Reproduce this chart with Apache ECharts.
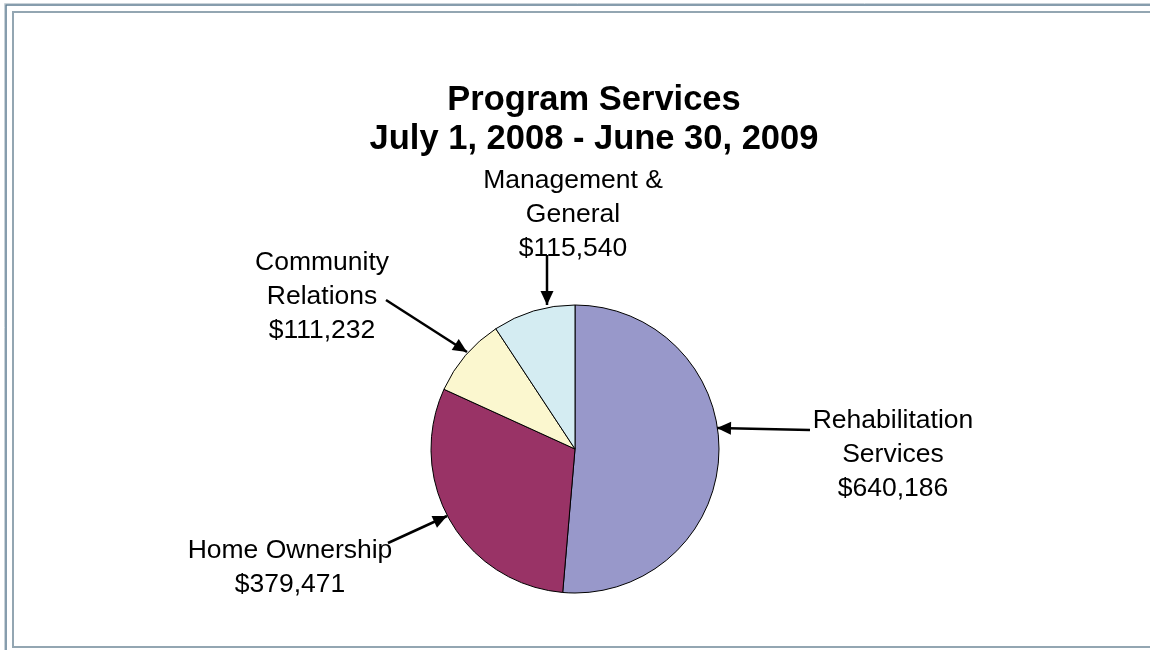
<!DOCTYPE html>
<html>
<head>
<meta charset="utf-8">
<script src="https://cdn.jsdelivr.net/npm/echarts@6/dist/echarts.min.js"></script>
<style>
html,body{margin:0;padding:0;background:#fff;}
#chart{width:1150px;height:650px;}
</style>
</head>
<body>
<div id="chart"></div>
<script>
// ---- data ----
var categories = ['Rehabilitation\nServices', 'Home Ownership', 'Community\nRelations', 'Management &\nGeneral'];
var values = [640186, 379471, 111232, 115540];
var titleLines = ['Program Services', 'July 1, 2008 - June 30, 2009'];

// ---- style / layout (annotation placement only) ----
var colors = ['#9898CA', '#993366', '#FBF7CF', '#D4ECF2'];
var labelCenters = [[893, 455], [290, 568], [322, 297], [573, 215]];
var arrowFrom = [[810, 430], [388, 543], [386, 300], [547, 255]];
var arrowTo = [[717, 428], [447, 516], [467, 352], [547, 305]];
var FONT = '"Liberation Sans", Arial, sans-serif';

function fmt(v) { return '$' + v.toLocaleString('en-US'); }

var chart = echarts.init(document.getElementById('chart'), null, {renderer: 'canvas'});

var option = {
  backgroundColor: '#ffffff',
  animation: false,
  title: {
    text: titleLines.join('\n'),
    left: 589,
    top: 76,
    textAlign: 'center',
    textStyle: {fontFamily: FONT, fontSize: 34.5, fontWeight: 'bold', color: '#000', lineHeight: 39}
  },
  graphic: [
    {type: 'rect', silent: true, z: 100, shape: {x: 4.5, y: 3.5, width: 1200, height: 700}, style: {fill: null, stroke: '#c9d2d8', lineWidth: 1}},
    {type: 'rect', silent: true, z: 100, shape: {x: 6, y: 5, width: 1200, height: 700}, style: {fill: null, stroke: '#5f7d92', lineWidth: 1.5}},
    {type: 'rect', silent: true, z: 100, shape: {x: 13, y: 12, width: 1200, height: 635}, style: {fill: null, stroke: '#93a6b2', lineWidth: 2}}
  ],
  series: [{
    type: 'pie',
    center: [575, 449],
    radius: 144,
    startAngle: 90,
    clockwise: true,
    avoidLabelOverlap: false,
    data: categories.map(function (c, i) {
      return {name: c, value: values[i], itemStyle: {color: colors[i]}};
    }),
    itemStyle: {borderColor: '#000', borderWidth: 1},
    label: {
      show: true,
      position: 'outside',
      formatter: function (p) { return p.name + '\n' + fmt(p.value); },
      fontFamily: FONT,
      fontSize: 26.5,
      lineHeight: 34,
      color: '#000',
      align: 'center'
    },
    labelLine: {show: true, length: 0, length2: 0, smooth: false, lineStyle: {color: '#000', width: 2.5}},
    labelLayout: function (params) {
      var i = params.dataIndex;
      var p = labelCenters[i];
      var a = arrowTo[i], b = arrowFrom[i];
      return {
        x: p[0], y: p[1], align: 'center', verticalAlign: 'middle',
        labelLinePoints: [a.slice(), [(a[0] + b[0]) / 2, (a[1] + b[1]) / 2], b.slice()]
      };
    },
    emphasis: {disabled: true}
  }]
};

chart.setOption(option);

// arrowheads at the pie end of each label line (read back from the library's guide lines)
function addArrows() {
  var zr = chart.getZr();
  var series = chart.getModel().getSeriesByIndex(0);
  var data = series.getData();
  for (var i = 0; i < data.count(); i++) {
    var el = data.getItemGraphicEl(i);
    var pts = null;
    try {
      var gl = el && el.getTextGuideLine && el.getTextGuideLine();
      if (gl && gl.shape && gl.shape.points) pts = gl.shape.points;
    } catch (e) {}
    if (!pts) pts = [arrowTo[i], arrowFrom[i]];
    var tip = pts[0], from = pts[pts.length - 1];
    var dx = tip[0] - from[0], dy = tip[1] - from[1];
    var len = Math.sqrt(dx * dx + dy * dy) || 1;
    var ux = dx / len, uy = dy / len;
    var L = 14, W = 6.5;
    var bx = tip[0] - ux * L, by = tip[1] - uy * L;
    zr.add(new echarts.graphic.Polygon({
      shape: {points: [[tip[0], tip[1]], [bx - uy * W, by + ux * W], [bx + uy * W, by - ux * W]]},
      style: {fill: '#000'},
      z: 50, zlevel: 0
    }));
  }
}
try { addArrows(); } catch (e) {
  setTimeout(function () { try { addArrows(); } catch (e2) {} }, 50);
}
</script>
</body>
</html>
